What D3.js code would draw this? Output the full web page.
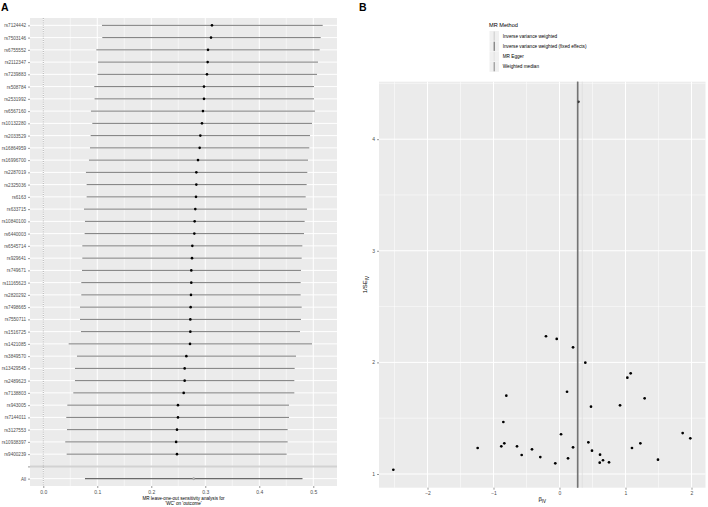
<!DOCTYPE html>
<html><head><meta charset="utf-8">
<script src="https://cdn.jsdelivr.net/npm/d3@7"></script>
<style>
body{margin:0;background:#fff;}
text{font-family:"Liberation Sans",Arial,sans-serif;}
</style></head>
<body>
<svg id="c" width="708" height="507"></svg>
<script>
// ---------- Panel A data: leave-one-out ----------
const snps = ["rs7124442","rs7503146","rs6755552","rs2112347","rs7239883","rs508784","rs2531992","rs6567160","rs10132280","rs2033529","rs16864959","rs16996700","rs2287019","rs2325036","rs6163","rs633715","rs10840100","rs6440003","rs6545714","rs929641","rs749671","rs11165623","rs2820292","rs7498665","rs7550711","rs1516725","rs1421085","rs3849570","rs13429545","rs2489623","rs7138803","rs943005","rs7144011","rs3127553","rs10938397","rs9400239"];
const looEst = [0.3124,0.3106,0.305,0.3044,0.3031,0.2976,0.2976,0.2957,0.2939,0.2908,0.2896,0.2865,0.2834,0.2834,0.2828,0.2815,0.2803,0.2797,0.2760,0.2754,0.2741,0.2741,0.2735,0.2729,0.2723,0.2723,0.2717,0.2649,0.2618,0.2618,0.2600,0.2494,0.2494,0.2476,0.2460,0.2476];
const looLow = [0.1087,0.1093,0.0982,0.1013,0.1007,0.0944,0.0950,0.0883,0.0908,0.0877,0.0865,0.0846,0.0790,0.0803,0.0803,0.0754,0.0772,0.0766,0.0723,0.0723,0.0717,0.0704,0.0704,0.0680,0.0680,0.0698,0.0470,0.0624,0.0587,0.0587,0.0556,0.0445,0.0426,0.0439,0.0407,0.0433];
const looHigh = [0.5174,0.5137,0.5118,0.5087,0.5069,0.5013,0.5013,0.5031,0.4976,0.4939,0.4926,0.4902,0.4889,0.4877,0.4859,0.4883,0.4840,0.4828,0.4797,0.4785,0.4772,0.4766,0.4766,0.4785,0.4772,0.4754,0.4976,0.4680,0.4655,0.4649,0.4649,0.4550,0.4550,0.4525,0.4525,0.4507];
const allLabel = "All";
const allEst = 0.2785, allLow = 0.0772, allHigh = 0.4800;
const xTicksA = [0.0,0.1,0.2,0.3,0.4,0.5];
const xTitleA = ["MR leave-one-out sensitivity analysis for","'WC' on 'outcome'"];

// ---------- Panel B data: funnel ----------
const betaIV = [-2.518,-1.240,-0.882,-0.836,-0.851,-0.806,-0.644,-0.573,-0.417,-0.291,-0.064,-0.205,-0.042,0.205,0.391,1.078,1.028,0.114,1.290,0.477,0.917,0.023,1.866,1.982,0.437,0.205,1.225,1.098,0.492,0.129,0.614,0.659,0.609,0.750,1.492,0.285];
const invSE  = [1.038,1.233,1.248,1.275,1.466,1.702,1.248,1.170,1.221,1.152,1.096,2.234,2.210,2.135,1.997,1.902,1.863,1.737,1.678,1.603,1.615,1.356,1.367,1.320,1.284,1.239,1.275,1.233,1.209,1.140,1.173,1.123,1.101,1.105,1.128,4.335];
const methods = ["Inverse variance weighted","Inverse variance weighted (fixed effects)","MR Egger","Weighted median"];
const methodBeta = [0.2785,0.2785,0.345,0.270];
const methodColor = ["#c4c4c4","#3a3a3a","#dedede","#6a6a6a"];
const xTicksB = [-2,-1,0,1,2];
const yTicksB = [1,2,3,4];
const legendTitle = "MR Method";

const svg = d3.select("#c");
svg.append("rect").attr("width",708).attr("height",507).attr("fill","#fff");
const bg = "#ebebeb", txtCol = "#4d4d4d", tickCol = "#333";

// ===== Panel A =====
const A = {l:30, r:337, t:18, b:486};
const xA = d3.scaleLinear().domain([-0.0246,0.5439]).range([A.l,A.r]);
const rows = snps.concat(["", allLabel]);
const yA = d3.scalePoint().domain(rows).range([A.t,A.b]).padding(0.6);
const gA = svg.append("g");
gA.append("rect").attr("x",A.l).attr("y",A.t).attr("width",A.r-A.l).attr("height",A.b-A.t).attr("fill",bg);
// minor grid
d3.range(0.05,0.55,0.1).forEach(v=>{
  gA.append("line").attr("x1",xA(v)).attr("x2",xA(v)).attr("y1",A.t).attr("y2",A.b).attr("stroke","#fff").attr("stroke-width",0.5);
});
xTicksA.forEach(v=>{
  gA.append("line").attr("x1",xA(v)).attr("x2",xA(v)).attr("y1",A.t).attr("y2",A.b).attr("stroke","#fff").attr("stroke-width",1);
});
rows.forEach(r=>{
  gA.append("line").attr("x1",A.l).attr("x2",A.r).attr("y1",yA(r)).attr("y2",yA(r)).attr("stroke","#fff").attr("stroke-width",1);
});
// blank separator line
gA.append("line").attr("x1",A.l).attr("x2",A.r).attr("y1",yA("")).attr("y2",yA("")).attr("stroke","#d2d2d2").attr("stroke-width",2);
// zero line
gA.append("line").attr("x1",xA(0)).attr("x2",xA(0)).attr("y1",A.t).attr("y2",A.b).attr("stroke","#9a9a9a").attr("stroke-width",0.8).attr("stroke-dasharray","1,1.2");
// error bars
gA.selectAll("line.eb").data(snps).enter().append("line").attr("class","eb")
  .attr("x1",(d,i)=>xA(looLow[i])).attr("x2",(d,i)=>xA(looHigh[i]))
  .attr("y1",d=>yA(d)).attr("y2",d=>yA(d)).attr("stroke","#7a7a7a").attr("stroke-width",1);
gA.selectAll("circle.pt").data(snps).enter().append("circle").attr("class","pt")
  .attr("cx",(d,i)=>xA(looEst[i])).attr("cy",d=>yA(d)).attr("r",1.3).attr("fill","#000");
gA.append("line").attr("x1",xA(allLow)).attr("x2",xA(allHigh)).attr("y1",yA(allLabel)).attr("y2",yA(allLabel)).attr("stroke","#6a6a6a").attr("stroke-width",1.2);
gA.append("circle").attr("cx",xA(allEst)).attr("cy",yA(allLabel)).attr("r",1.1).attr("fill","#bbb").attr("stroke","#888").attr("stroke-width",0.4);
// axes
const axAy = gA.append("g").attr("transform",`translate(${A.l},0)`).call(d3.axisLeft(yA).tickSize(2).tickPadding(2));
axAy.select(".domain").remove();
axAy.selectAll("line").attr("stroke",tickCol).attr("stroke-width",0.5);
axAy.selectAll("text").attr("fill",txtCol).attr("font-size",4.6);
const axAx = gA.append("g").attr("transform",`translate(0,${A.b})`).call(d3.axisBottom(xA).tickValues(xTicksA).tickFormat(d3.format(".1f")).tickSize(2).tickPadding(2));
axAx.select(".domain").remove();
axAx.selectAll("line").attr("stroke",tickCol).attr("stroke-width",0.5);
axAx.selectAll("text").attr("fill",txtCol).attr("font-size",5);
gA.append("text").attr("x",(A.l+A.r)/2).attr("y",499.5).attr("text-anchor","middle").attr("font-size",4.6).attr("fill","#000").text(xTitleA[0]);
gA.append("text").attr("x",(A.l+A.r)/2).attr("y",504.5).attr("text-anchor","middle").attr("font-size",4.6).attr("fill","#000").text(xTitleA[1]);
svg.append("text").attr("x",1).attr("y",11).attr("font-size",10.5).attr("font-weight","bold").text("A");

// ===== Panel B =====
const B = {l:379, r:705.5, t:81.7, b:487.7};
const xB = d3.scaleLinear().domain([-2.735,2.212]).range([B.l,B.r]);
const yB = d3.scaleLinear().domain([0.8772,4.515]).range([B.b,B.t]);
const gB = svg.append("g");
gB.append("rect").attr("x",B.l).attr("y",B.t).attr("width",B.r-B.l).attr("height",B.b-B.t).attr("fill",bg);
[-2.5,-1.5,-0.5,0.5,1.5].forEach(v=>{
  gB.append("line").attr("x1",xB(v)).attr("x2",xB(v)).attr("y1",B.t).attr("y2",B.b).attr("stroke","#fff").attr("stroke-width",0.5);
});
[1.5,2.5,3.5,4.5].forEach(v=>{
  gB.append("line").attr("x1",B.l).attr("x2",B.r).attr("y1",yB(v)).attr("y2",yB(v)).attr("stroke","#fff").attr("stroke-width",0.5);
});
xTicksB.forEach(v=>{
  gB.append("line").attr("x1",xB(v)).attr("x2",xB(v)).attr("y1",B.t).attr("y2",B.b).attr("stroke","#fff").attr("stroke-width",1);
});
yTicksB.forEach(v=>{
  gB.append("line").attr("x1",B.l).attr("x2",B.r).attr("y1",yB(v)).attr("y2",yB(v)).attr("stroke","#fff").attr("stroke-width",1);
});
gB.selectAll("circle.fp").data(betaIV).enter().append("circle").attr("class","fp")
  .attr("cx",d=>xB(d)).attr("cy",(d,i)=>yB(invSE[i])).attr("r",1.35).attr("fill","#000");
methods.forEach((m,i)=>{
  gB.append("line").attr("x1",xB(methodBeta[i])).attr("x2",xB(methodBeta[i])).attr("y1",B.t).attr("y2",B.b).attr("stroke",methodColor[i]).attr("stroke-width",0.8);
});
const axBx = gB.append("g").attr("transform",`translate(0,${B.b})`).call(d3.axisBottom(xB).tickValues(xTicksB).tickFormat(d3.format("d")).tickSize(2).tickPadding(2));
axBx.select(".domain").remove();
axBx.selectAll("line").attr("stroke",tickCol).attr("stroke-width",0.5);
axBx.selectAll("text").attr("fill",txtCol).attr("font-size",5);
const axBy = gB.append("g").attr("transform",`translate(${B.l},0)`).call(d3.axisLeft(yB).tickValues(yTicksB).tickFormat(d3.format("d")).tickSize(2).tickPadding(2));
axBy.select(".domain").remove();
axBy.selectAll("line").attr("stroke",tickCol).attr("stroke-width",0.5);
axBy.selectAll("text").attr("fill",txtCol).attr("font-size",5);
// axis titles
const xt = gB.append("text").attr("x",(B.l+B.r)/2).attr("y",501).attr("text-anchor","middle").attr("font-size",6).attr("fill","#000");
xt.append("tspan").text("β");
xt.append("tspan").attr("font-size",4.5).attr("dy",1.5).text("IV");
const yt = gB.append("text").attr("transform",`translate(367,${(B.t+B.b)/2}) rotate(-90)`).attr("text-anchor","middle").attr("font-size",6).attr("fill","#000");
yt.append("tspan").text("1/SE");
yt.append("tspan").attr("font-size",4.5).attr("dy",1.5).text("IV");
svg.append("text").attr("x",359).attr("y",11).attr("font-size",10.5).attr("font-weight","bold").text("B");
// legend
const lg = svg.append("g");
lg.append("text").attr("x",489).attr("y",27).attr("font-size",5.6).attr("fill","#000").text(legendTitle);
methods.forEach((m,i)=>{
  const y0 = 31 + i*10.2;
  lg.append("rect").attr("x",489.5).attr("y",y0).attr("width",9.5).attr("height",10.2).attr("fill","#f0f0f0");
  lg.append("line").attr("x1",494.2).attr("x2",494.2).attr("y1",y0+0.5).attr("y2",y0+9.7).attr("stroke",methodColor[i]).attr("stroke-width",0.8);
  lg.append("text").attr("x",502.7).attr("y",y0+6.8).attr("font-size",4.7).attr("fill","#000").text(m);
});
</script>
</body></html>
